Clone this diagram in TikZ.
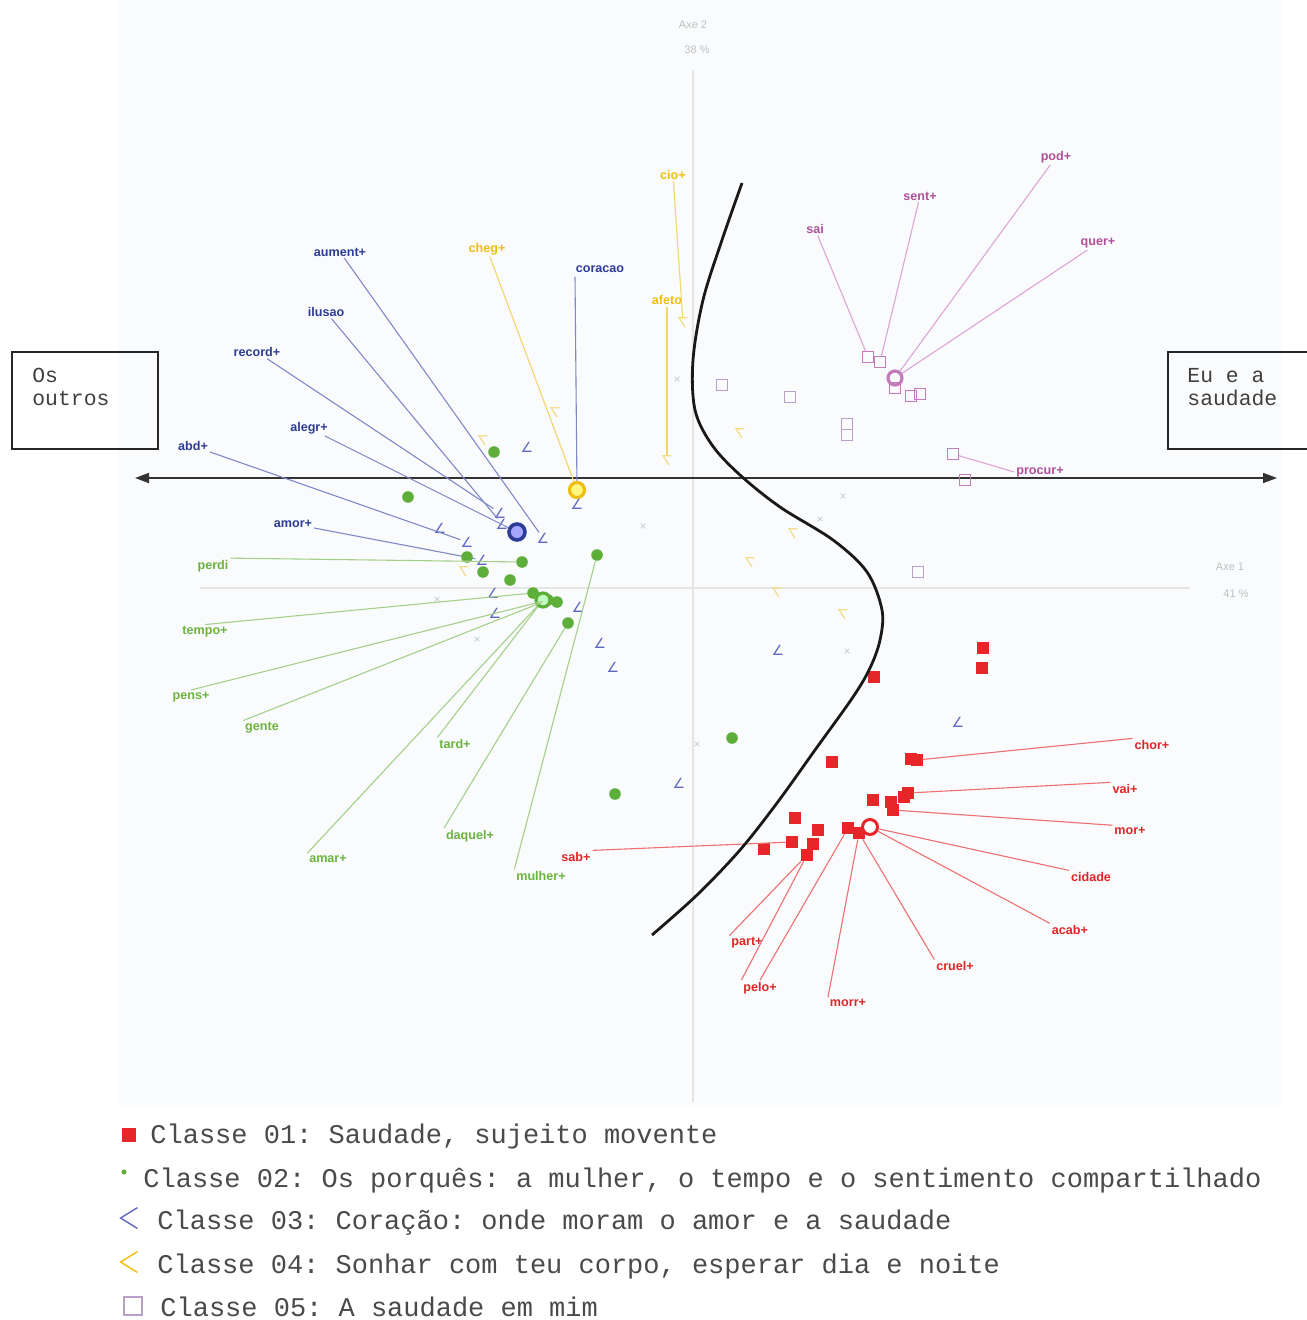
\documentclass[tikz,border=0pt]{standalone}
\usepackage{fontspec}
\setmainfont{Liberation Sans}
\newfontfamily\monof{Liberation Mono}
\newfontfamily\djv{DejaVu Sans}
\usetikzlibrary{arrows.meta}
\definecolor{cred}{HTML}{E62628}
\definecolor{lred}{HTML}{E02525}
\definecolor{rline}{HTML}{EE7070}
\definecolor{cgreen}{HTML}{5EAE3A}
\definecolor{lgreen}{HTML}{6CB33F}
\definecolor{gline}{HTML}{A6D08A}
\definecolor{lblue}{HTML}{2D3C96}
\definecolor{bline}{HTML}{8088C8}
\definecolor{bmark}{HTML}{6068C0}
\definecolor{lyel}{HTML}{F0BE10}
\definecolor{yline}{HTML}{F2D56E}
\definecolor{ymark}{HTML}{F2DC8C}
\definecolor{lmag}{HTML}{B0509A}
\definecolor{pline}{HTML}{DCA6D4}
\definecolor{pmark}{HTML}{C27CBC}
\definecolor{lav}{HTML}{B8A0C8}
\definecolor{bgtint}{HTML}{F9FBFD}
\definecolor{legtxt}{HTML}{4A4A4A}
\frenchspacing
\begin{document}
\begin{tikzpicture}[x=0.5pt,y=-0.5pt,
  lbl/.style={font=\bfseries\fontsize{6.3}{7}\selectfont, inner sep=0.8pt},
  lb/.style={lbl,text=lblue}, lg/.style={lbl,text=lgreen},
  ly/.style={lbl,text=lyel}, lm/.style={lbl,text=lmag}, lr/.style={lbl,text=lred},
  rsq/.style={rectangle,fill=cred,minimum size=6pt,inner sep=0pt},
  gdot/.style={circle,fill=cgreen,minimum size=5.8pt,inner sep=0pt},
  psq/.style={rectangle,draw=pmark,line width=0.5pt,minimum size=5.5pt,inner sep=0pt},
  lsq/.style={rectangle,draw=lav,line width=0.5pt,minimum size=5.5pt,inner sep=0pt},
  bmk/.style={font=\djv\fontsize{7}{7}\selectfont,text=bmark,inner sep=0pt},
  ymk/.style={font=\djv\fontsize{7}{7}\selectfont,text=ymark,inner sep=0pt},
  xmk/.style={font=\fontsize{6}{6}\selectfont,text=black!22,inner sep=0pt},
  bl/.style={draw=bline,line width=0.55pt},
  gl/.style={draw=gline,line width=0.55pt},
  yl/.style={draw=yline,line width=0.55pt},
  pl/.style={draw=pline,line width=0.55pt},
  rl/.style={draw=rline,line width=0.55pt},
  faint/.style={font=\fontsize{5.5}{6}\selectfont,text=black!25,inner sep=0pt},
  legtext/.style={font=\monof\fontsize{13.5}{14}\selectfont,text=legtxt,anchor=base west,inner sep=0pt},
  boxtext/.style={font=\monof\fontsize{10.7}{11.5}\selectfont,text=black!75,anchor=north west,align=left,inner sep=0pt},
  sidebox/.style={draw=black!85,line width=0.8pt,rectangle,inner sep=0pt}
]
\useasboundingbox (0,0) rectangle (1306,1320);
\fill[white] (0,0) rectangle (1306,1320);
\fill[bgtint] (118,0) rectangle (1282,1105);

% faint axes
\coordinate (vtop) at (693,70);
\coordinate (vbot) at (693,1102);
\coordinate (hl) at (200,588);
\coordinate (hr) at (1190,588);
\draw[draw=black!10,line width=0.6pt] (vtop) -- (vbot);
\draw[draw=black!10,line width=0.6pt] (hl) -- (hr);
\node[faint] (ax2) at (693,25) {Axe 2};
\node[faint] (ax2p) at (697,50) {38 \%};
\node[faint] (ax1) at (1230,567) {Axe 1};
\node[faint] (ax1p) at (1236,594) {41 \%};

% side boxes
\node[sidebox,minimum width=73pt,minimum height=48.5pt] (boxL) at (85,400.5) {};
\node[boxtext] (boxLt) at (32,368) {Os\\outros};
\node[sidebox,minimum width=70pt,minimum height=48.5pt] (boxR) at (1238,400.5) {};
\node[boxtext] (boxRt) at (1187,368) {Eu e a\\saudade};

% main double arrow
\coordinate (axl) at (135,478);
\coordinate (axr) at (1277,478);
\draw[{Triangle[length=7pt,width=5pt]}-{Triangle[length=7pt,width=5pt]},line width=0.8pt,black!80] (axl) -- (axr);

% ---- faint gray markers
\node[xmk] (x1) at (677,380) {×};
\node[xmk] (x2) at (643,527) {×};
\node[xmk] (x3) at (843,497) {×};
\node[xmk] (x4) at (820,520) {×};
\node[xmk] (x5) at (847,652) {×};
\node[xmk] (x6) at (437,600) {×};
\node[xmk] (x7) at (477,640) {×};
\node[xmk] (x8) at (697,745) {×};

% ---- class 4 (yellow)
\node[ymk] (y1) at (683,323) {\scalebox{1}[-1]{∠}};
\node[ymk] (y2) at (667,461) {\scalebox{1}[-1]{∠}};
\node[ymk] (y3) at (555,413) {\scalebox{1}[-1]{∠}};
\node[ymk] (y4) at (483,441) {\scalebox{1}[-1]{∠}};
\node[ymk] (y5) at (740,434) {\scalebox{1}[-1]{∠}};
\node[ymk] (y6) at (793,534) {\scalebox{1}[-1]{∠}};
\node[ymk] (y7) at (750,563) {\scalebox{1}[-1]{∠}};
\node[ymk] (y8) at (777,593) {\scalebox{1}[-1]{∠}};
\node[ymk] (y9) at (843,615) {\scalebox{1}[-1]{∠}};
\node[ymk] (y10) at (464,572) {\scalebox{1}[-1]{∠}};
\node[circle,draw=lyel,line width=1.6pt,fill=yellow!50,minimum size=7.5pt,inner sep=0pt] (yc) at (577,490) {};
\node[ly] (cheg) at (487,249) {cheg+};
\node[ly] (cio) at (673,175) {cio+};
\node[ly] (afeto) at (667,300) {afeto};
\draw[yl] (cheg) -- (yc);
\draw[yl] (cio) -- (y1);
\draw[yl] (afeto) -- (y2);

% ---- class 5 (magenta)
\node[psq] (p1) at (868,357) {};
\node[psq] (p2) at (880,362) {};
\node[psq] (p3) at (895,388) {};
\node[psq] (p4) at (911,396) {};
\node[psq] (p5) at (920,394) {};
\node[psq] (p6) at (953,454) {};
\node[psq] (p7) at (965,480) {};
\node[lsq] (q1) at (722,385) {};
\node[lsq] (q2) at (790,397) {};
\node[lsq] (q3) at (847,424) {};
\node[lsq] (q4) at (847,435) {};
\node[lsq] (q5) at (918,572) {};
\node[circle,draw=pmark,line width=1.6pt,minimum size=7pt,inner sep=0pt] (pc) at (895,378) {};
\node[lm] (sai) at (815,229) {sai};
\node[lm] (sent) at (920,196) {sent+};
\node[lm] (pod) at (1056,157) {pod+};
\node[lm] (quer) at (1098,243) {quer+};
\node[lm] (procur) at (1040,472) {procur+};
\draw[pl] (sai) -- (p1);
\draw[pl] (sent) -- (p2);
\draw[pl] (pod) -- (pc);
\draw[pl] (quer) -- (pc);
\draw[pl] (procur.west) -- (p6);

% ---- class 3 (blue)
\node[bmk] (b1) at (527,447) {∠};
\node[bmk] (b2) at (500,513) {∠};
\node[bmk] (b3) at (502,524) {∠};
\node[bmk] (b4) at (543,538) {∠};
\node[bmk] (b5) at (440,528) {∠};
\node[bmk] (b6) at (467,542) {∠};
\node[bmk] (b7) at (482,560) {∠};
\node[bmk] (b8) at (493,593) {∠};
\node[bmk] (b9) at (495,613) {∠};
\node[bmk] (b10) at (578,607) {∠};
\node[bmk] (b11) at (600,643) {∠};
\node[bmk] (b12) at (613,667) {∠};
\node[bmk] (b13) at (778,650) {∠};
\node[bmk] (b14) at (679,783) {∠};
\node[bmk] (b15) at (958,722) {∠};
\node[bmk] (b16) at (577,504) {∠};
\node[circle,draw=lblue,line width=1.8pt,fill=blue!35!white,minimum size=8pt,inner sep=0pt] (bc) at (517,532) {};
\node[lb] (aument) at (340,252) {aument+};
\node[lb] (ilusao) at (326,312) {ilusao};
\node[lb] (record) at (257,352) {record+};
\node[lb] (alegr) at (309,428) {alegr+};
\node[lb] (abd) at (193,446) {abd+};
\node[lb] (amor) at (293,524) {amor+};
\node[lb] (coracao) at (600,269) {coracao};
\coordinate (cortop) at (575,277);
\draw[bl] (aument) -- (b4);
\draw[bl] (ilusao) -- (b3);
\draw[bl] (record) -- (b2);
\draw[bl] (alegr) -- (bc);
\draw[bl] (abd) -- (b6);
\draw[bl] (amor) -- (b7);
\draw[bl] (cortop) -- (yc);

% ---- class 2 (green)
\node[gdot] (g1) at (494,452) {};
\node[gdot] (g2) at (408,497) {};
\node[gdot] (g3) at (467,557) {};
\node[gdot] (g4) at (483,572) {};
\node[gdot] (g5) at (522,562) {};
\node[gdot] (g6) at (510,580) {};
\node[gdot] (g7) at (597,555) {};
\node[gdot] (g8) at (533,593) {};
\node[gdot] (g9) at (548,600) {};
\node[gdot] (g10) at (557,602) {};
\node[gdot] (g11) at (568,623) {};
\node[gdot] (g12) at (732,738) {};
\node[gdot] (g13) at (615,794) {};
\node[circle,draw=cgreen,line width=1.6pt,fill=green!25!white,minimum size=7pt,inner sep=0pt] (gc) at (543,600) {};
\node[lg] (perdi) at (213,566) {perdi};
\node[lg] (tempo) at (205,632) {tempo+};
\node[lg] (pens) at (191,697) {pens+};
\node[lg] (gente) at (262,728) {gente};
\node[lg] (tard) at (455,744) {tard+};
\node[lg] (amar) at (328,859) {amar+};
\node[lg] (daquel) at (470,836) {daquel+};
\node[lg] (mulher) at (541,876) {mulher+};
\draw[gl] (perdi.north east) -- (g5);
\draw[gl] (tempo.north) -- (g8);
\draw[gl] (pens.north) -- (g9);
\draw[gl] (gente.north west) -- (g9);
\draw[gl] (tard.north west) -- (gc);
\draw[gl] (amar.north west) -- (gc);
\draw[gl] (daquel.north west) -- (g11);
\draw[gl] (mulher.north west) -- (g7);

% ---- class 1 (red)
\node[rsq] (r1) at (983,648) {};
\node[rsq] (r2) at (982,668) {};
\node[rsq] (r3) at (874,677) {};
\node[rsq] (r4) at (832,762) {};
\node[rsq] (r5) at (911,759) {};
\node[rsq] (r6) at (917,760) {};
\node[rsq] (r7) at (873,800) {};
\node[rsq] (r8) at (891,802) {};
\node[rsq] (r9) at (893,810) {};
\node[rsq] (r10) at (904,797) {};
\node[rsq] (r11) at (908,793) {};
\node[rsq] (r12) at (795,818) {};
\node[rsq] (r13) at (818,830) {};
\node[rsq] (r14) at (848,828) {};
\node[rsq] (r15) at (859,833) {};
\node[rsq] (r16) at (792,842) {};
\node[rsq] (r17) at (813,844) {};
\node[rsq] (r18) at (807,855) {};
\node[rsq] (r19) at (764,849) {};
\node[circle,draw=cred,line width=1.5pt,fill=white,minimum size=7.5pt,inner sep=0pt] (rc) at (870,827) {};
\node[lr] (chor) at (1152,745) {chor+};
\node[lr] (vai) at (1125,789) {vai+};
\node[lr] (mor) at (1130,831) {mor+};
\node[lr] (cidade) at (1091,877) {cidade};
\node[lr] (acab) at (1070,930) {acab+};
\node[lr] (cruel) at (955,966) {cruel+};
\node[lr] (morr) at (848,1003) {morr+};
\node[lr] (part) at (747,943) {part+};
\node[lr] (pelo) at (760,988) {pelo+};
\node[lr] (sab) at (576,857) {sab+};
\draw[rl] (chor.north west) -- (r6);
\draw[rl] (vai.north west) -- (r11);
\draw[rl] (mor.north west) -- (r9);
\draw[rl] (cidade.north west) -- (rc);
\draw[rl] (acab.north west) -- (rc);
\draw[rl] (cruel.north west) -- (r15);
\draw[rl] (morr.north west) -- (r15);
\draw[rl] (part.north west) -- (r18);
\draw[rl] (pelo.north west) -- (r18);
\draw[rl] (pelo.north) -- (r14);
\draw[rl] (sab.north east) -- (r16);

% ---- black separating curve
\draw[line width=1.4pt,black!90] plot[smooth,tension=0.55] coordinates {
 (742,183) (722,240) (703,300) (693,360) (695,410) (712,445) (740,475)
 (780,507) (833,540) (867,572) (882,610) (880,640) (870,668) (853,697)
 (815,750) (777,803) (740,850) (697,895) (652,935)};

% ---- legend
\node[rectangle,fill=cred,minimum size=7pt,inner sep=0pt] (lg1) at (129,1135) {};
\node[legtext] (lt1) at (150,1143) {Classe 01: Saudade, sujeito movente};
\node[circle,fill=cgreen,minimum size=2.5pt,inner sep=0pt] (lg2) at (124,1172) {};
\node[legtext] (lt2) at (143,1187) {Classe 02: Os porquês: a mulher, o tempo e o sentimento compartilhado};
\node[minimum width=8pt,minimum height=10pt,inner sep=0pt] (lg3) at (129,1218) {};
\draw[draw=bmark,line width=0.7pt] (lg3.north east) -- (lg3.west) -- (lg3.south east);
\node[legtext] (lt3) at (157,1229) {Classe 03: Coração: onde moram o amor e a saudade};
\node[minimum width=8pt,minimum height=10pt,inner sep=0pt] (lg4) at (129,1262) {};
\draw[draw=lyel,line width=0.7pt] (lg4.north east) -- (lg4.west) -- (lg4.south east);
\node[legtext] (lt4) at (157,1273) {Classe 04: Sonhar com teu corpo, esperar dia e noite};
\node[rectangle,draw=lav,line width=0.6pt,minimum size=9pt,inner sep=0pt] (lg5) at (133,1306) {};
\node[legtext] (lt5) at (160,1316) {Classe 05: A saudade em mim};
\end{tikzpicture}
\end{document}
